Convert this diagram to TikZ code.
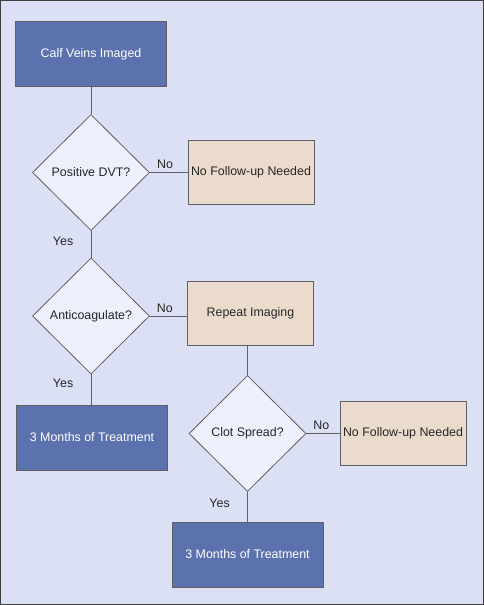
\documentclass[tikz,border=0pt]{standalone}
\usepackage{fontspec}
\setmainfont{Liberation Sans}
\definecolor{pagebg}{RGB}{220,224,244}
\definecolor{stepblue}{RGB}{91,114,174}
\definecolor{tanfill}{RGB}{235,219,204}
\definecolor{askfill}{RGB}{237,240,251}
\definecolor{edge}{RGB}{95,95,100}
\usetikzlibrary{shapes.geometric}

\begin{document}
\begin{tikzpicture}[
  x=1pt, y=-1pt,
  box/.style={rectangle, draw=edge, line width=0.8pt,
              font=\fontsize{12.4}{15}\selectfont, text=black!85,
              minimum width=151pt, minimum height=65pt, inner sep=0pt},
  treat/.style={box, fill=stepblue, text=white},
  rest/.style={box, fill=tanfill, minimum width=126pt, minimum height=64pt},
  ask/.style={diamond, aspect=1, draw=edge, line width=0.8pt, fill=askfill,
              font=\fontsize{12.4}{15}\selectfont, text=black!85,
              minimum width=117pt, minimum height=116pt, inner sep=0pt},
  link/.style={draw=edge, line width=0.9pt},
  lbl/.style={font=\fontsize{12.4}{15}\selectfont, text=black!85}
]
  % Page
  \useasboundingbox (0,0) rectangle (484,605);
  \fill[pagebg] (0,0) rectangle (484,605);
  \draw[black!75, line width=1.2pt] (0.6,0.6) rectangle (483.4,604.4);

  % Left column
  \node[treat] (calf) at (91,54) {Calf Veins Imaged};
  \node[ask] (dvt) at (91,172.5) {Positive DVT?};
  \node[ask] (anti) at (91,316) {Anticoagulate?};
  \node[treat] (treat1) at (92,437.5) {3 Months of Treatment};

  % Right side
  \node[rest] (nofu1) at (251,172.5) {No Follow-up Needed};
  \node[rest] (repeat) at (250.5,313) {Repeat Imaging};
  \node[ask] (clot) at (247.5,433.5) {Clot Spread?};
  \node[rest] (nofu2) at (403,433.5) {No Follow-up Needed};
  \node[treat] (treat2) at (247.5,554.5) {3 Months of Treatment};

  % Connectors
  \draw[link] (calf) -- (dvt);
  \draw[link] (dvt) -- node[lbl, above, pos=0.4] {No} (nofu1);
  \draw[link] (dvt) -- node[lbl, left=14pt, pos=0.4] {Yes} (anti);
  \draw[link] (anti) -- node[lbl, above, pos=0.4] {No} (anti -| repeat.west);
  \draw[link] (anti.south) -- node[lbl, left=14pt, pos=0.3] {Yes} (anti.south |- treat1.north);
  \draw[link] (repeat.south -| clot) -- (clot);
  \draw[link] (clot) -- node[lbl, above, pos=0.45] {No} (nofu2);
  \draw[link] (clot) -- node[lbl, left=14pt, pos=0.4] {Yes} (treat2);
\end{tikzpicture}
\end{document}
